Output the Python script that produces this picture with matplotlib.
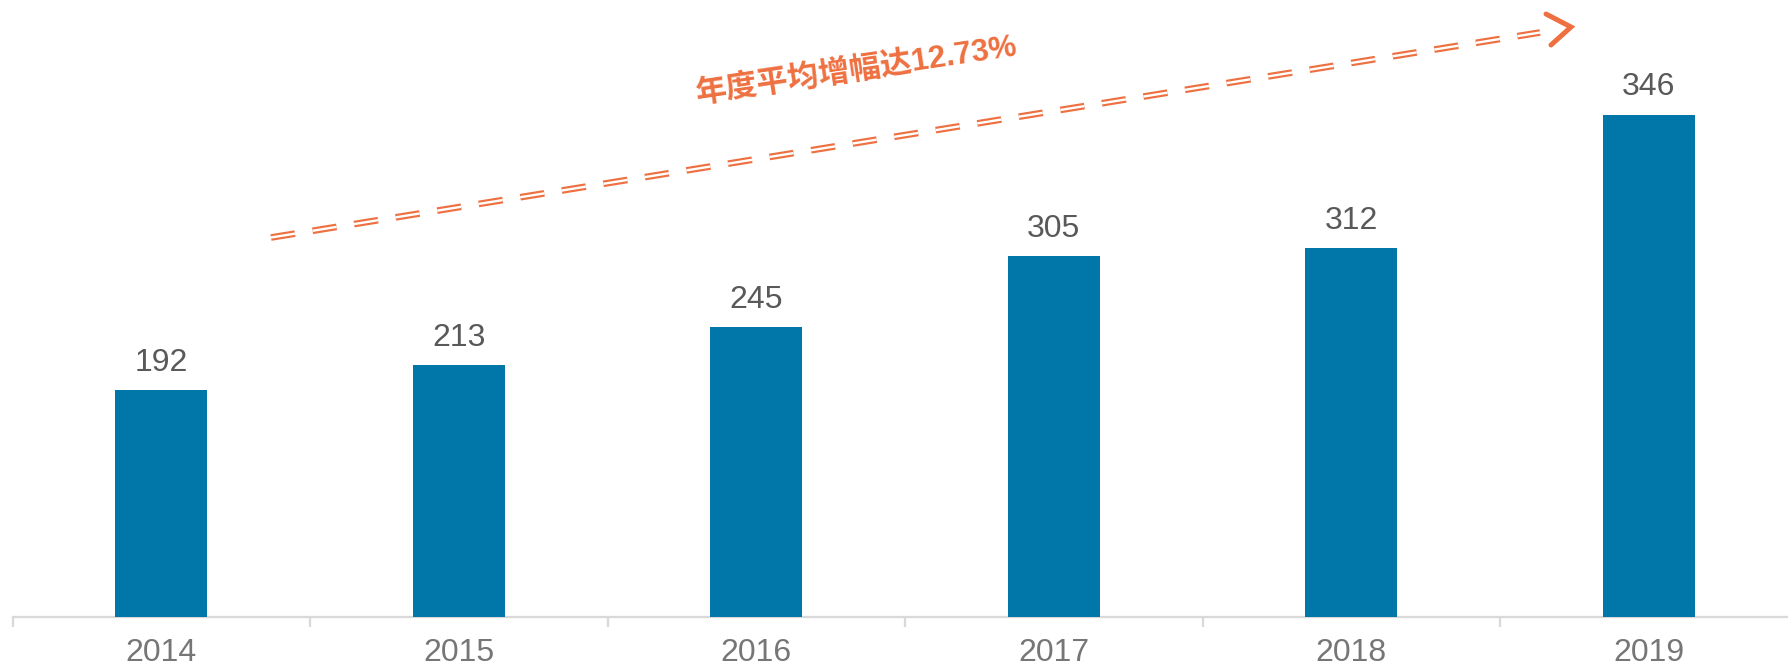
import matplotlib.pyplot as plt
import numpy as np

years = ['2014', '2015', '2016', '2017', '2018', '2019']
bar_heights = [192, 213, 245, 305, 312, 425]
bar_labels = ['192', '213', '245', '305', '312', '346']
note = '年度平均增幅达12.73%'

BLUE = '#0077A8'
ORANGE = '#EE7041'
plt.rcParams['lines.scale_dashes'] = False

fig = plt.figure(figsize=(17.88, 6.66), dpi=100)
W, H = 1788, 666
ax = fig.add_axes([12.6 / W, 49 / H, 1785 / W, 617 / H])

x = np.arange(len(years))
ax.bar(x, bar_heights, width=0.31, color=BLUE, zorder=3)
for xi, h, lab in zip(x, bar_heights, bar_labels):
    ax.annotate(lab, (xi, h), xytext=(0, 14), textcoords='offset points',
                ha='center', va='baseline', fontsize=23, color='#595959',
                family='Liberation Sans')

ax.set_xlim(-0.5, 5.5)
ax.set_ylim(0, 522)
for s in ['left', 'right', 'top']:
    ax.spines[s].set_visible(False)
ax.spines['bottom'].set_color('#D9D9D9')
ax.spines['bottom'].set_linewidth(1.65)
ax.set_yticks([])
ax.set_xticks(x)
ax.set_xticklabels(years, fontsize=23, color='#767676', family='Liberation Sans')
ax.set_xticks(np.arange(-0.5, 6, 1), minor=True)
ax.tick_params(axis='x', which='major', length=0, pad=15)
ax.tick_params(axis='x', which='minor', length=7.2, width=1.65, color='#D9D9D9')

# trend arrow (figure pixel coords, y from top)
def fp(px, py):
    return px / W, (H - py) / H

x0, y0 = fp(271, 237.5)
x1, y1 = fp(1540, 32.5)
dash = (0, (17.5, 12.8))
fig.add_artist(plt.Line2D([x0, x1], [y0, y1], transform=fig.transFigure,
                          color=ORANGE, lw=4.8, linestyle=dash, dash_capstyle='butt'))
fig.add_artist(plt.Line2D([x0, x1], [y0, y1], transform=fig.transFigure,
                          color='white', lw=1.7, linestyle=dash, dash_capstyle='butt'))
ca, cb, cc = fp(1546, 14), fp(1571, 27), fp(1551, 45)
fig.add_artist(plt.Line2D([ca[0], cb[0], cc[0]], [ca[1], cb[1], cc[1]],
                          transform=fig.transFigure, color=ORANGE, lw=3.6,
                          solid_capstyle='round', solid_joinstyle='miter'))

tx, ty = fp(857, 72)
fig.text(tx, ty, note, rotation=8.5, ha='center', va='center', fontsize=22.5,
         fontweight='bold', color=ORANGE,
         family=['Liberation Sans', 'Noto Sans CJK SC'], rotation_mode='anchor')

fig.savefig('out.png', dpi=100)
